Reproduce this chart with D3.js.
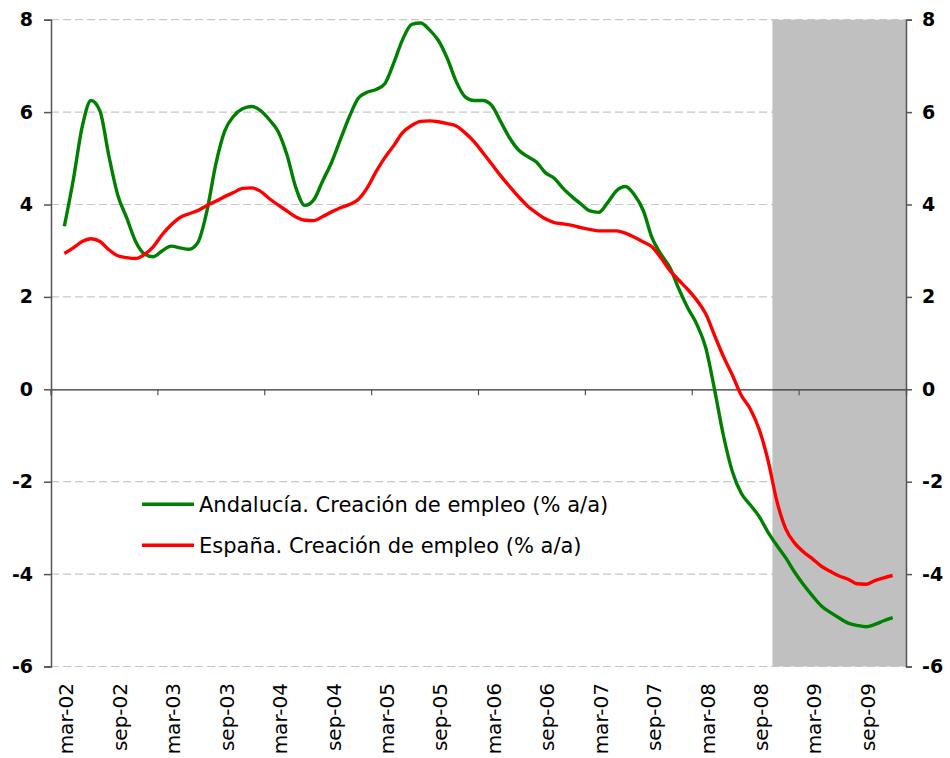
<!DOCTYPE html>
<html>
<head>
<meta charset="utf-8">
<script src="https://cdn.jsdelivr.net/npm/d3@7"></script>
<style>
  body { margin: 0; background: #fff; }
  svg { display: block; }
</style>
</head>
<body>
<svg id="chart" width="950" height="758"></svg>
<script>
// categories on the axis: feb-02 .. jan-10 (96 months), data runs mar-02 .. dic-09
const monthNames = ["ene", "feb", "mar", "abr", "may", "jun", "jul", "ago", "sep", "oct", "nov", "dic"];
const categories = d3.range(96).map(i => {
    const m = (1 + i) % 12, yr = 2 + Math.floor((1 + i) / 12);
    return monthNames[m] + "-" + String(yr).padStart(2, "0");
});
const dataStart = 1;   // first value is mar-02
const shadeFrom = "nov-08";

// Andalucía, creación de empleo (% a/a)
const andalucia = [
    3.53, 4.53, 5.68, 6.25, 6.02, 5.05, 4.20, 3.71, 3.20, 2.93,
    2.87, 3.00, 3.10, 3.06, 3.03, 3.18, 3.85, 4.87, 5.59, 5.91,
    6.07, 6.12, 6.04, 5.84, 5.58, 5.07, 4.36, 3.98, 4.10, 4.51,
    4.91, 5.41, 5.90, 6.30, 6.43, 6.49, 6.62, 7.07, 7.58, 7.90,
    7.93, 7.78, 7.55, 7.16, 6.66, 6.33, 6.25, 6.25, 6.14, 5.79,
    5.44, 5.18, 5.04, 4.92, 4.69, 4.57, 4.35, 4.17, 4.01, 3.86,
    3.83, 4.04, 4.30, 4.39, 4.21, 3.87, 3.27, 2.92, 2.63, 2.17,
    1.76, 1.41, 0.91, 0.00, -1.00, -1.78, -2.25, -2.50, -2.75, -3.09,
    -3.38, -3.65, -3.96, -4.23, -4.47, -4.69, -4.83, -4.95, -5.06, -5.11,
    -5.14, -5.09, -5.01, -4.94
];
// España, creación de empleo (% a/a)
const espana = [
    2.94, 3.06, 3.20, 3.26, 3.20, 3.02, 2.89, 2.85, 2.83, 2.92,
    3.09, 3.35, 3.56, 3.72, 3.80, 3.87, 3.98, 4.07, 4.17, 4.26,
    4.35, 4.36, 4.29, 4.13, 3.99, 3.86, 3.73, 3.66, 3.65, 3.74,
    3.84, 3.93, 4.00, 4.11, 4.36, 4.71, 5.02, 5.28, 5.56, 5.71,
    5.80, 5.81, 5.79, 5.75, 5.70, 5.55, 5.36, 5.12, 4.87, 4.62,
    4.39, 4.17, 3.97, 3.82, 3.69, 3.61, 3.58, 3.55, 3.50, 3.46,
    3.43, 3.43, 3.43, 3.38, 3.29, 3.19, 3.08, 2.84, 2.57, 2.36,
    2.16, 1.93, 1.64, 1.17, 0.71, 0.31, -0.13, -0.42, -0.86, -1.53,
    -2.42, -3.02, -3.33, -3.52, -3.67, -3.83, -3.94, -4.04, -4.11, -4.21,
    -4.22, -4.14, -4.08, -4.03
];
const yTicks = [8, 6, 4, 2, 0, -2, -4, -6];
const seriesNames = ["Andalucía. Creación de empleo (% a/a)", "España. Creación de empleo (% a/a)"];
const seriesColors = ["#008000", "#ff0000"];

const svg = d3.select("#chart");
const plotLeft = 51, plotRight = 906, plotTop = 19.7, plotBottom = 666.5;
const font = "DejaVu Sans, Verdana, sans-serif";

const x = d3.scaleBand().domain(categories).range([plotLeft, plotRight]).padding(0);
const y = d3.scaleLinear().domain([-6, 8]).range([plotBottom, plotTop]);
const cx = c => x(c) + x.bandwidth() / 2;

// dashed grid
svg.append("g")
    .selectAll("line")
    .data(yTicks.filter(d => d !== 0))
    .join("line")
    .attr("x1", plotLeft).attr("x2", plotRight)
    .attr("y1", d => y(d)).attr("y2", d => y(d))
    .attr("stroke", "#c8c8c8")
    .attr("stroke-width", 1.2)
    .attr("stroke-dasharray", "8,4");

// shaded block
svg.append("rect")
    .attr("x", x(shadeFrom))
    .attr("y", y(8))
    .attr("width", plotRight - x(shadeFrom))
    .attr("height", y(-6) - y(8))
    .attr("fill", "#c0c0c0");

// zero axis with yearly tick marks
const xAxis = d3.axisBottom(x)
    .tickValues(categories.filter((d, i) => i % 12 === 0))
    .tickSize(6)
    .tickFormat("");
const gx = svg.append("g").attr("transform", `translate(0,${y(0)})`).call(xAxis);
gx.select(".domain").attr("stroke", "#333").attr("stroke-width", 1.3);
gx.selectAll(".tick line").attr("stroke", "#555").attr("stroke-width", 1.2)
    .attr("transform", `translate(${-x.bandwidth() / 2},0)`);

// month labels every 6 months at the bottom
svg.append("g")
    .selectAll("text")
    .data(categories.filter((d, i) => i % 6 === 1))
    .join("text")
    .attr("transform", d => `translate(${cx(d) + 9},683) rotate(-90)`)
    .attr("text-anchor", "end")
    .attr("font-family", font)
    .attr("font-size", 20)
    .attr("fill", "#000")
    .text(d => d);

// lines
const line = d3.line()
    .x((d, i) => cx(categories[i + dataStart]))
    .y(d => y(d))
    .curve(d3.curveMonotoneX);
[andalucia, espana].forEach((s, k) => {
    svg.append("path")
        .datum(s)
        .attr("d", line)
        .attr("fill", "none")
        .attr("stroke", seriesColors[k])
        .attr("stroke-width", 3.4)
        .attr("stroke-linejoin", "round");
});

// left and right value axes (plain hyphen for negatives)
const fmt = d => String(d);
const yLeft = d3.axisLeft(y).tickValues(yTicks).tickSize(7).tickPadding(11).tickFormat(fmt);
const gl = svg.append("g").attr("transform", `translate(${plotLeft},0)`).call(yLeft);
const yRight = d3.axisRight(y).tickValues(yTicks).tickSize(6).tickPadding(10).tickFormat(fmt);
const gr = svg.append("g").attr("transform", `translate(${plotRight},0)`).call(yRight);
[gl, gr].forEach(g => {
    g.select(".domain").attr("stroke", "#555").attr("stroke-width", 1.5);
    g.selectAll(".tick line").attr("stroke", "#555").attr("stroke-width", 1.5);
    g.selectAll(".tick text")
        .attr("font-family", font)
        .attr("font-weight", "bold")
        .attr("font-size", 19)
        .attr("fill", "#000");
});

// legend
const legend = svg.append("g");
seriesNames.forEach((name, k) => {
    const ly = 504.3 + k * 41;
    legend.append("line")
        .attr("x1", 142).attr("x2", 194)
        .attr("y1", ly).attr("y2", ly)
        .attr("stroke", seriesColors[k])
        .attr("stroke-width", 3.4);
    legend.append("text")
        .attr("x", 199).attr("y", ly + 8)
        .attr("font-family", font)
        .attr("font-size", 21)
        .attr("fill", "#000")
        .text(name);
});
</script>
</body>
</html>
